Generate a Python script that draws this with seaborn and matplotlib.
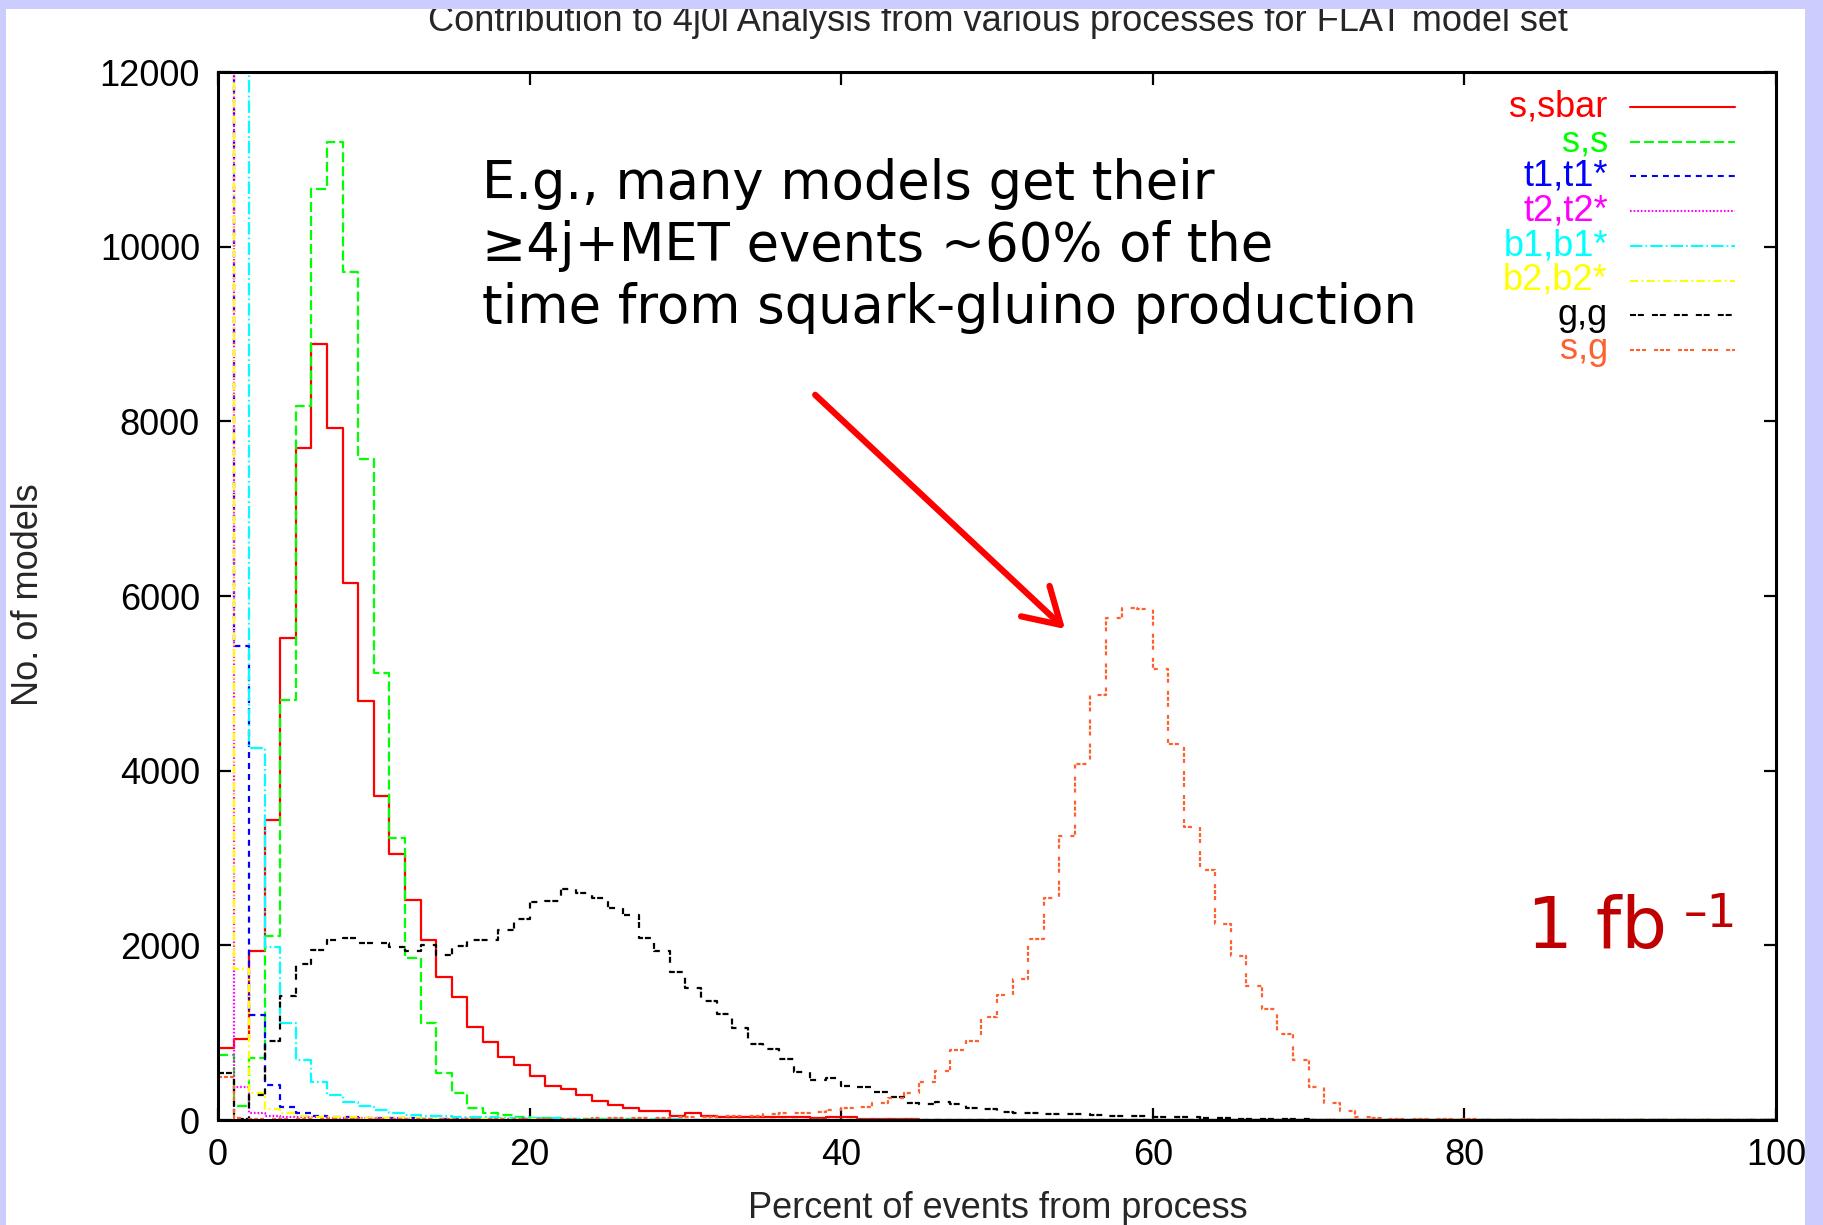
import numpy as np
import pandas as pd
import matplotlib
matplotlib.use("Agg")
import matplotlib.pyplot as plt
import seaborn as sns
from matplotlib.patches import Rectangle

# ---------------- data (counts of models per 1% bin, 0..100 %) ----------------
bin_edges = list(range(0, 101))
x_ticks = [0, 20, 40, 60, 80, 100]
y_ticks = [0, 2000, 4000, 6000, 8000, 10000, 12000]

labels = ["s,sbar", "s,s", "t1,t1*", "t2,t2*", "b1,b1*", "b2,b2*", "g,g", "s,g"]
colors = ["#ff0000", "#00ff00", "#0000ff", "#ff00ff", "#00ffff", "#ffff00", "#000000", "#ff6030"]

s_sbar = [820, 930, 1930, 3430, 5520, 7700, 8880, 7920, 6150, 4800,
          3710, 3050, 2520, 2060, 1640, 1410, 1060, 890, 720, 630,
          500, 390, 355, 290, 220, 176, 134, 103, 100, 50,
          76, 45, 40, 40, 38, 35, 35, 30, 20, 38,
          38, 15, 10, 8, 6, 5, 4, 3, 3, 2,
          2, 2, 1, 1, 1, 1, 0, 0, 0, 0,
          0, 0, 0, 0, 0, 0, 0, 0, 0, 0,
          0, 0, 0, 0, 0, 0, 0, 0, 0, 0,
          0, 0, 0, 0, 0, 0, 0, 0, 0, 0,
          0, 0, 0, 0, 0, 0, 0, 0, 0, 0]

s_s = [745, 160, 715, 2105, 4810, 8180, 10660, 11200, 9710, 7570,
       5120, 3230, 1860, 1110, 540, 313, 141, 80, 57, 38,
       25, 20, 15, 12, 10, 8, 6, 5, 4, 3,
       3, 2, 2, 1, 1, 1, 1, 0, 0, 0,
       0, 0, 0, 0, 0, 0, 0, 0, 0, 0,
       0, 0, 0, 0, 0, 0, 0, 0, 0, 0,
       0, 0, 0, 0, 0, 0, 0, 0, 0, 0,
       0, 0, 0, 0, 0, 0, 0, 0, 0, 0,
       0, 0, 0, 0, 0, 0, 0, 0, 0, 0,
       0, 0, 0, 0, 0, 0, 0, 0, 0, 0]

t1_t1 = [62000, 5430, 1200, 400, 153, 76, 45, 38, 30, 25,
         22, 20, 18, 15, 12, 10, 9, 8, 7, 6,
         5, 5, 4, 4, 3, 3, 2, 2, 2, 1,
         1, 1, 1, 1, 0, 0, 0, 0, 0, 0,
         0, 0, 0, 0, 0, 0, 0, 0, 0, 0,
         0, 0, 0, 0, 0, 0, 0, 0, 0, 0,
         0, 0, 0, 0, 0, 0, 0, 0, 0, 0,
         0, 0, 0, 0, 0, 0, 0, 0, 0, 0,
         0, 0, 0, 0, 0, 0, 0, 0, 0, 0,
         0, 0, 0, 0, 0, 0, 0, 0, 0, 0]

t2_t2 = [69000, 382, 76, 45, 40, 35, 30, 28, 25, 22,
         20, 18, 16, 14, 12, 11, 10, 9, 8, 7,
         6, 5, 5, 4, 4, 3, 3, 2, 2, 2,
         1, 1, 1, 1, 1, 0, 0, 0, 0, 0,
         0, 0, 0, 0, 0, 0, 0, 0, 0, 0,
         0, 0, 0, 0, 0, 0, 0, 0, 0, 0,
         0, 0, 0, 0, 0, 0, 0, 0, 0, 0,
         0, 0, 0, 0, 0, 0, 0, 0, 0, 0,
         0, 0, 0, 0, 0, 0, 0, 0, 0, 0,
         0, 0, 0, 0, 0, 0, 0, 0, 0, 0]

b1_b1 = [30000, 28000, 4260, 1985, 1107, 687, 439, 286, 210, 160,
         115, 76, 57, 50, 45, 40, 35, 30, 25, 22,
         20, 18, 16, 14, 12, 10, 9, 8, 7, 6,
         5, 5, 4, 4, 3, 3, 2, 2, 2, 1,
         1, 1, 1, 1, 0, 0, 0, 0, 0, 0,
         0, 0, 0, 0, 0, 0, 0, 0, 0, 0,
         0, 0, 0, 0, 0, 0, 0, 0, 0, 0,
         0, 0, 0, 0, 0, 0, 0, 0, 0, 0,
         0, 0, 0, 0, 0, 0, 0, 0, 0, 0,
         0, 0, 0, 0, 0, 0, 0, 0, 0, 0]

b2_b2 = [67000, 1725, 313, 126, 76, 50, 40, 35, 30, 26,
         22, 20, 18, 16, 14, 12, 10, 9, 8, 7,
         6, 5, 5, 4, 4, 3, 3, 2, 2, 2,
         1, 1, 1, 1, 0, 0, 0, 0, 0, 0,
         0, 0, 0, 0, 0, 0, 0, 0, 0, 0,
         0, 0, 0, 0, 0, 0, 0, 0, 0, 0,
         0, 0, 0, 0, 0, 0, 0, 0, 0, 0,
         0, 0, 0, 0, 0, 0, 0, 0, 0, 0,
         0, 0, 0, 0, 0, 0, 0, 0, 0, 0,
         0, 0, 0, 0, 0, 0, 0, 0, 0, 0]

g_g = [534, 15, 290, 905, 1420, 1786, 1947, 2061, 2080, 2031,
       2023, 1985, 1935, 2004, 1889, 1996, 2061, 2061, 2176, 2298,
       2493, 2511, 2642, 2603, 2538, 2424, 2347, 2080, 1939, 1698,
       1515, 1363, 1210, 1057, 866, 809, 698, 546, 458, 485,
       389, 374, 324, 263, 191, 183, 202, 183, 134, 122,
       95, 84, 80, 72, 70, 65, 55, 50, 45, 45,
       40, 35, 30, 25, 20, 15, 12, 10, 8, 6,
       5, 4, 3, 3, 2, 2, 1, 1, 1, 1,
       1, 1, 0, 0, 0, 0, 0, 0, 0, 0,
       0, 0, 0, 0, 0, 0, 0, 0, 0, 0]

s_g = [496, 23, 15, 14, 13, 12, 12, 11, 11, 10,
       10, 10, 10, 10, 11, 11, 12, 12, 13, 13,
       14, 15, 16, 17, 18, 20, 22, 25, 28, 32,
       35, 38, 42, 46, 50, 70, 75, 80, 95, 110,
       134, 153, 199, 248, 305, 439, 565, 802, 909, 1183,
       1430, 1620, 2069, 2542, 3248, 4072, 4863, 5745, 5867, 5855,
       5169, 4300, 3350, 2860, 2240, 1880, 1540, 1275, 990, 690,
       373, 200, 107, 40, 20, 15, 12, 10, 8, 7,
       6, 5, 5, 4, 4, 3, 3, 3, 2, 2,
       2, 2, 2, 1, 1, 1, 1, 1, 1, 1]

series = [s_sbar, s_s, t1_t1, t2_t2, b1_b1, b2_b2, g_g, s_g]

title = "Contribution to 4j0l Analysis from various processes for FLAT model set"
xlabel = "Percent of events from process"
ylabel = "No. of models"
note = "E.g., many models get their\n\u22654j+MET events ~60% of the\ntime from squark-gluino production"
lumi_main = "1 fb"
lumi_exp = "\u20131"

# ---------------- style ----------------
sns.set_style("ticks")
plt.rcParams["font.family"] = ["Liberation Sans", "DejaVu Sans"]
plt.rcParams["lines.scale_dashes"] = False

dashes = [
    "-",
    (0, (7.2, 2.9)),
    (0, (4.3, 3.6)),
    (0, (1.2, 1.4)),
    (0, (9.0, 2.2, 1.2, 2.2)),
    (0, (5.8, 2.5, 1.2, 2.5)),
    (0, (4.3, 1.4, 4.3, 5.8)),
    (0, (2.9, 1.4, 2.9, 1.4, 2.9, 5.8)),
]

W, H = 1823, 1225
fig = plt.figure(figsize=(W / 100, H / 100), dpi=100)
fig.patch.set_facecolor("white")
ax = fig.add_axes([218 / W, 1 - 1120 / H, (1776 - 218) / W, (1120 - 72) / H])

centers = [(a + b) / 2 for a, b in zip(bin_edges[:-1], bin_edges[1:])]
for lab, vals, col, ls in zip(labels, series, colors, dashes):
    df = pd.DataFrame({"pct": centers, "n": [float(v) for v in vals]})
    sns.histplot(data=df, x="pct", weights="n", bins=bin_edges, element="step",
                 fill=False, color=col, linestyle=ls, linewidth=1.6, ax=ax)

ax.set_xlim(0, 100)
ax.set_ylim(0, 12000)
ax.set_xticks(x_ticks)
ax.set_yticks(y_ticks)
ax.set_xlabel("")
ax.set_ylabel("")
ax.tick_params(direction="in", length=9, width=1.6, top=True, right=True,
               labelsize=26, pad=13, colors="black")
for sp in ax.spines.values():
    sp.set_linewidth(2.2)
    sp.set_color("black")
    sp.set_visible(True)

# legend (gnuplot style: right-aligned coloured labels, sample to the right)
y0, dy = (1120 - 107) / 1048, 34.7 / 1048
for i, (lab, col, ls) in enumerate(zip(labels, colors, dashes)):
    yy = y0 - i * dy
    ax.text(0.892, yy, lab, transform=ax.transAxes, ha="right", va="center",
            color=col, fontsize=26)
    ax.plot([0.906, 0.974], [yy, yy], transform=ax.transAxes, color=col,
            linestyle=ls, linewidth=1.5, clip_on=False)

# annotation
ax.text(0.1695, 0.918, note, transform=ax.transAxes, ha="left", va="top",
        fontsize=38, family="DejaVu Sans", color="black", linespacing=1.25)
ax.annotate("", xy=(54.5, 5600), xytext=(38.2, 8325),
            arrowprops=dict(arrowstyle="->,head_length=0.5,head_width=0.3",
                            color="#ff0000", lw=4.5, mutation_scale=50))
ax.text(0.840, 0.164, lumi_main, transform=ax.transAxes, ha="left", va="baseline",
        fontsize=52, family="DejaVu Sans", color="#c00000")
ax.text(0.941, 0.184, lumi_exp, transform=ax.transAxes, ha="left", va="baseline",
        fontsize=34, family="DejaVu Sans", color="#c00000")

# titles / axis labels
fig.text(998 / W, 1 - 31 / H, title, ha="center", va="baseline", fontsize=26)
fig.text(998 / W, 1 - 1209 / H, xlabel, ha="center", va="center", fontsize=26)
fig.text(29 / W, 1 - 595 / H, ylabel, ha="center", va="center", rotation=90, fontsize=26)

# lavender slide frame
lav = "#ccccff"
fig.add_artist(Rectangle((0, 1 - 9 / H), 1, 9 / H, transform=fig.transFigure,
                         facecolor=lav, edgecolor="none", zorder=10))
fig.add_artist(Rectangle((0, 0), 6 / W, 1, transform=fig.transFigure,
                         facecolor=lav, edgecolor="none", zorder=10))
fig.add_artist(Rectangle((1805 / W, 0), 18 / W, 1, transform=fig.transFigure,
                         facecolor=lav, edgecolor="none", zorder=10))

fig.savefig("out.png", dpi=100)
